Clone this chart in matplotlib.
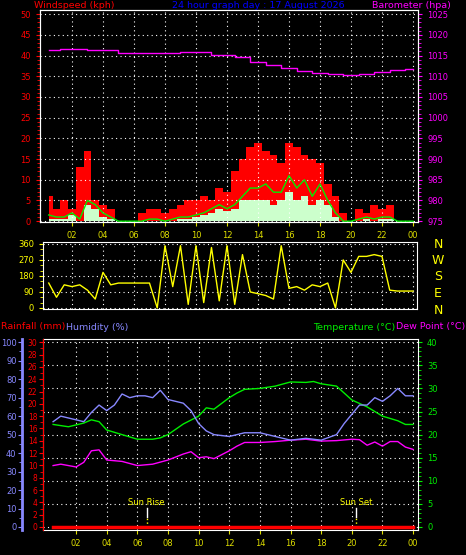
import matplotlib
matplotlib.use("Agg")
import matplotlib.pyplot as plt
import numpy as np

hours = [0.5,1,1.5,2,2.5,3,3.5,4,4.5,5,5.5,6,6.5,7,7.5,8,8.5,9,9.5,10,10.5,11,11.5,12,
         12.5,13,13.5,14,14.5,15,15.5,16,16.5,17,17.5,18,18.5,19,19.5,20,20.5,21,21.5,22,22.5,23,23.5,24]
gust = [6,3,5,3,13,17,5,4,3,0,0,0,2,3,3,2,3,4,5,5,6,5,8,7,
        12,15,18,19,17,16,14,19,18,16,15,14,9,6,2,0,3,2,4,3,4,0,0,0]
avg_wind = [1.5,1,1,2,0.5,5,4,2,1,0,0,0,0,0.5,0.5,0,0.5,1,1,1.5,2,3,4,3,
            4,6,8,8,9,7,7,11,8,10,6,9,5,2,0,0,0.5,1,0.5,1,1,0,0,0]
lull = [0.5,0.5,0.5,1.5,0,4,3,1,0.5,0,0,0,0,0,0,0,0,0.5,0.5,1,1.5,2,3,2.5,
        3,5,5,5,5,4,5,7,5,6,4,5,4,1,0,0,0,0.5,0,0.5,0.5,0,0,0]
baro_h = [0.5,2,4,6,8,10,12,13,14,15,16,17,18,19,20,21,22,23,24]
baro = [1016.4,1016.7,1016.3,1015.7,1015.5,1015.8,1015.2,1014.6,1013.5,1012.8,
        1011.9,1011.3,1010.8,1010.5,1010.3,1010.5,1011.0,1011.6,1011.8]
wdir = [140,60,130,120,130,100,50,200,130,140,140,140,140,140,0,350,120,350,20,350,30,340,40,350,
        20,300,90,80,70,50,350,110,120,100,130,120,140,0,270,200,290,290,300,290,100,95,95,95]
th = [0.5,1.5,2.5,3,3.5,4,5,6,7,7.5,8,9,10,10.5,11,12,12.5,13,14,15,16,17,17.5,18,19,19.5,20,21,22,22.5,23,23.5,24]
temp = [22.2,21.7,22.5,23.2,22.8,21,20,19,19,19.3,20,22.3,24,25.8,25.5,28,29,29.8,30,30.5,31.4,31.3,31.5,31,30.5,29,27.5,26,24,23.5,23,22.2,22.2]
hh = [0.5,1,2,2.5,3,3.5,4,4.5,5,5.5,6,6.5,7,7.5,8,9,9.5,10,10.5,11,12,13,14,15,16,17,18,19,19.5,20,20.5,21,21.5,22,22.5,23,23.5,24]
hum = [57,60,58,57,62,66,63,66,72,70,71,71,70,74,69,67,63,56,52,50,49,51,51,49,47,48,47,50,56,61,66,66,70,68,71,75,71,71]
dh = [0.5,1,2,2.5,3,3.5,4,5,6,7,8,9,9.5,10,10.5,11,12,12.5,13,14,15,16,17,18,19,20,20.5,21,21.5,22,22.5,23,23.5,24]
dew = [13.3,13.6,13,14,16.5,16.7,14.5,14.2,13.3,13.6,14.5,15.8,16.3,15,15.2,14.8,16.5,17.5,18.3,18.3,18.5,18.8,19,18.6,18.7,19,18.9,17.7,18.4,17.5,18.5,18.5,17.3,16.8]
rain_h = [0.5,24]
rain = [0,0]
xticks = [2,4,6,8,10,12,14,16,18,20,22,24]
xlabels = ["02","04","06","08","10","12","14","16","18","20","22","00"]

W, H = 466, 555
fig = plt.figure(figsize=(W/100, H/100), dpi=100, facecolor="black")
plt.rcParams['font.family'] = ['DejaVu Sans']
FS = 6
HF = 6.8

def ax_at(x0, y0, x1, y1):
    a = fig.add_axes([x0/W, 1-y1/H, (x1-x0)/W, (y1-y0)/H])
    a.set_facecolor("black")
    for s in a.spines.values():
        s.set_color("white")
    return a

def grid(a):
    a.grid(True, color="white", linestyle=(0, (1, 3)), linewidth=0.8)

# ---------- top panel
a1 = ax_at(40, 10, 418, 222)
a1.set_xlim(-0.06, 24.32); a1.set_ylim(-0.2, 51)
a1.fill_between(hours, gust, step="mid", color="#ff0000", lw=0)
a1.fill_between(hours, lull, step="mid", color="#ccffcc", lw=0)
a1.plot(hours, avg_wind, color="#00ee00", lw=1)
a1.set_yticks(range(0, 51, 5)); a1.set_yticks(range(0, 51, 1), minor=True)
a1.set_xticks(xticks); a1.set_xticklabels(xlabels)
a1.tick_params(axis="y", colors="red", labelsize=FS, length=3)
a1.tick_params(axis="y", which="minor", colors="red", length=2)
a1.tick_params(axis="x", colors="#dddd00", labelsize=FS, length=3)
grid(a1)
b1 = a1.twinx()
b1.set_ylim(975 - 0.2, 1026)
b1.plot(baro_h, baro, color="#ff00ff", lw=1, drawstyle="steps-mid")
b1.set_yticks(range(975, 1026, 5)); b1.set_yticks(range(975, 1026, 1), minor=True)
b1.tick_params(axis="y", colors="#ff00ff", labelsize=FS, length=3)
b1.tick_params(axis="y", which="minor", colors="#ff00ff", length=2)
for s in b1.spines.values(): s.set_color("white")
fig.text(34/W, 1-6/H, "Windspeed (kph)", color="red", fontsize=HF, va="center")
fig.text(172/W, 1-6/H, "24 hour graph day : 17 August 2026", color="#0000ff", fontsize=HF, va="center")
fig.text(372/W, 1-6/H, "Barometer (hpa)", color="#ff00ff", fontsize=HF, va="center")

# ---------- middle panel
a2 = ax_at(43, 242, 417, 309)
a2.set_xlim(0.13, 24.26); a2.set_ylim(-6, 371)
a2.plot(hours, wdir, color="yellow", lw=1)
a2.set_yticks([0, 90, 180, 270, 360]); a2.set_yticklabels(["0", "90", "180", "270", "360"])
a2.set_yticks(range(0, 361, 30), minor=True)
a2.set_xticks(xticks); a2.set_xticklabels([])
a2.tick_params(axis="y", colors="yellow", labelsize=FS, length=3)
a2.tick_params(axis="y", which="minor", colors="yellow", length=2)
a2.tick_params(axis="x", length=0)
grid(a2)
for i, c in enumerate("NWSEN"):
    fig.text(438/W, 1-(244 + i*16.5)/H, c, color="yellow", fontsize=9, ha="center", va="center")

fig.text(1/W, 1-327/H, "Rainfall (mm)", color="red", fontsize=HF, va="center")
fig.text(66/W, 1-327/H, "Humidity (%)", color="#8888ff", fontsize=HF, va="center")
fig.text(313/W, 1-327/H, "Temperature (°C)", color="#00ee00", fontsize=HF, va="center")
fig.text(465/W, 1-327/H, "Dew Point (°C)", color="#ff00ff", fontsize=HF, va="center", ha="right")

# ---------- bottom panel
a3 = ax_at(43, 339, 418, 530)
yl = (-0.65, 40.7)
a3.set_xlim(-0.16, 24.32); a3.set_ylim(*yl)
a3.plot(th, temp, color="#00ee00", lw=1)
a3.plot(dh, dew, color="#ff00ff", lw=1)
a3.set_xticks(xticks); a3.set_xticklabels(xlabels)
a3.tick_params(axis="x", colors="#dddd00", labelsize=FS, length=3)
grid(a3)
hax = a3.twinx()
hax.set_ylim(yl[0]*2.5, yl[1]*2.5)
hax.plot(hh, hum, color="#8888ff", lw=1)
hax.yaxis.tick_left()
hax.spines["left"].set_position(("outward", 15)); hax.spines["left"].set_color("#8888ff")
hax.spines["left"].set_linewidth(2)
for k in ("right", "top", "bottom"): hax.spines[k].set_visible(False)
hax.set_yticks(range(0, 101, 10)); hax.set_yticks(range(0, 101, 5), minor=True)
hax.tick_params(axis="y", colors="#8888ff", labelsize=FS, length=3, pad=1)
hax.tick_params(axis="y", which="minor", colors="#8888ff", length=2)
rax = a3.twinx()
rax.set_ylim(yl[0]*0.75, yl[1]*0.75)
rax.plot(rain_h, rain, color="red", lw=2.5)
rax.yaxis.tick_left()
for k in ("right", "top", "bottom"): rax.spines[k].set_visible(False)
rax.spines["left"].set_color("red")
rax.set_yticks(range(0, 31, 2)); rax.set_yticks(range(0, 31, 1), minor=True)
rax.tick_params(axis="y", colors="red", labelsize=5.5, length=3, pad=1)
rax.tick_params(axis="y", which="minor", colors="red", length=2)
a3.yaxis.tick_right()
a3.set_yticks(range(0, 41, 5)); a3.set_yticks(range(0, 41, 1), minor=True)
a3.tick_params(axis="y", colors="#00ee00", labelsize=FS, length=3)
a3.tick_params(axis="y", which="minor", colors="#00ee00", length=2)
for x, lab in ((6.6, "Sun Rise"), (20.3, "Sun Set")):
    a3.plot([x, x], [0, 2.2], color="yellow", ls=":", lw=1)
    a3.plot([x, x], [2.2, 4.2], color="white", lw=1)
    a3.text(x, 5.2, lab, color="yellow", fontsize=FS, ha="center", va="center")

fig.savefig("out.png", dpi=100, facecolor="black")
